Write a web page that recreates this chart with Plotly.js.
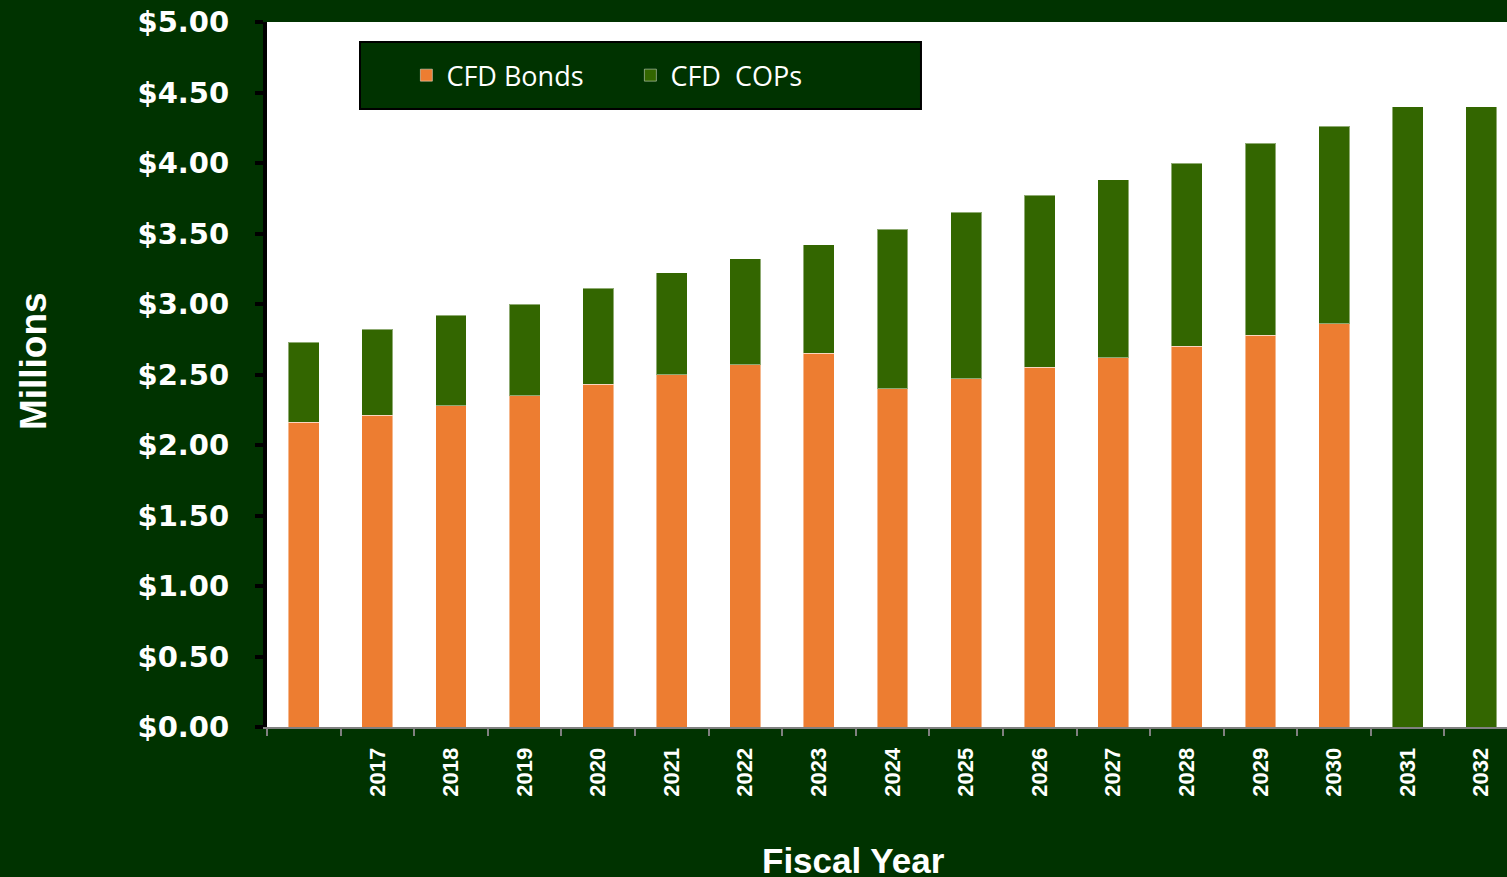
<!DOCTYPE html>
<html>
<head>
<meta charset="utf-8">
<script src="https://cdn.plot.ly/plotly-3.0.1.min.js"></script>
<style>
  html, body { margin: 0; padding: 0; background: #003300; }
  #chart { width: 1507px; height: 877px; }
</style>
</head>
<body>
<div id="chart"></div>
<script>
// Fiscal years (first bar has no printed label in the reference)
const years = ["2016","2017","2018","2019","2020","2021","2022","2023","2024","2025","2026","2027","2028","2029","2030","2031","2032"];
const yearLabels = ["","2017","2018","2019","2020","2021","2022","2023","2024","2025","2026","2027","2028","2029","2030","2031","2032"];
// Values in $ millions
const cfdBonds = [2.16, 2.21, 2.28, 2.35, 2.43, 2.50, 2.57, 2.65, 2.40, 2.47, 2.55, 2.62, 2.70, 2.78, 2.86, 0, 0];
const cfdCOPs  = [0.57, 0.61, 0.64, 0.65, 0.68, 0.72, 0.75, 0.77, 1.13, 1.18, 1.22, 1.26, 1.30, 1.36, 1.40, 4.40, 4.40];
const yTicks = [0, 0.5, 1, 1.5, 2, 2.5, 3, 3.5, 4, 4.5, 5];

const BG = "#003300";
const outline = { color: "rgba(255,255,255,0.45)", width: 1 };

const traces = [
  { type: "bar", name: "CFD Bonds", x: years, y: cfdBonds,
    marker: { color: "#ED7D31", line: outline }, hoverinfo: "skip" },
  { type: "bar", name: "CFD  COPs", x: years, y: cfdCOPs,
    marker: { color: "#336600", line: outline }, hoverinfo: "skip" }
];

const layout = {
  width: 1507, height: 877,
  paper_bgcolor: BG, plot_bgcolor: "#FFFFFF",
  margin: { l: 267, r: 0, t: 22, b: 150, pad: 0 },
  barmode: "stack",
  bargap: 0.58,
  showlegend: true,
  legend: {
    orientation: "h", x: 0.1124, xanchor: "left", y: 0.924, yanchor: "middle",
    bgcolor: "rgba(0,0,0,0)", borderwidth: 0,
    font: { family: "Open Sans", size: 27, color: "#FFFFFF" },
    entrywidth: 179, entrywidthmode: "pixels", traceorder: "normal"
  },
  shapes: [{
    type: "rect", xref: "paper", yref: "paper",
    x0: 0.075, x1: 0.5274, y0: 0.8766, y1: 0.9716,
    fillcolor: BG, line: { color: "#000000", width: 2 }
  }],
  xaxis: {
    type: "category",
    range: [-0.5, 16.35],
    tickmode: "array", tickvals: years, ticktext: yearLabels,
    tickson: "boundaries",
    ticks: "outside", ticklen: 7, tickwidth: 2, tickcolor: "#808080",
    showline: true, linecolor: "#808080", linewidth: 2,
    showgrid: false, zeroline: false,
    tickangle: -90,
    ticklabelstandoff: 10,
    tickfont: { family: "Liberation Sans", size: 22, color: "#FFFFFF", weight: "bold" },
    fixedrange: true
  },
  yaxis: {
    range: [0, 5],
    tickmode: "array", tickvals: yTicks,
    tickformat: "$.2f",
    ticks: "outside", ticklen: 8, tickwidth: 4, tickcolor: "#000000",
    showline: true, linecolor: "#000000", linewidth: 4,
    showgrid: false, zeroline: false,
    ticklabelstandoff: 20,
    tickfont: { family: "DejaVu Sans", size: 29, color: "#FFFFFF", weight: "bold" },
    fixedrange: true
  },
  annotations: [
    { text: "Millions", xref: "paper", yref: "paper", x: -0.1887, y: 0.519,
      xanchor: "center", yanchor: "middle", textangle: -90, showarrow: false,
      font: { family: "Liberation Sans", size: 37, color: "#FFFFFF", weight: "bold" } },
    { text: "Fiscal Year", xref: "paper", yref: "paper", x: 0.4726, y: -0.1887,
      xanchor: "center", yanchor: "middle", showarrow: false,
      font: { family: "Liberation Sans", size: 35, color: "#FFFFFF", weight: "bold" } }
  ]
};

Plotly.newPlot("chart", traces, layout, { displayModeBar: false, staticPlot: true });
</script>
</body>
</html>
